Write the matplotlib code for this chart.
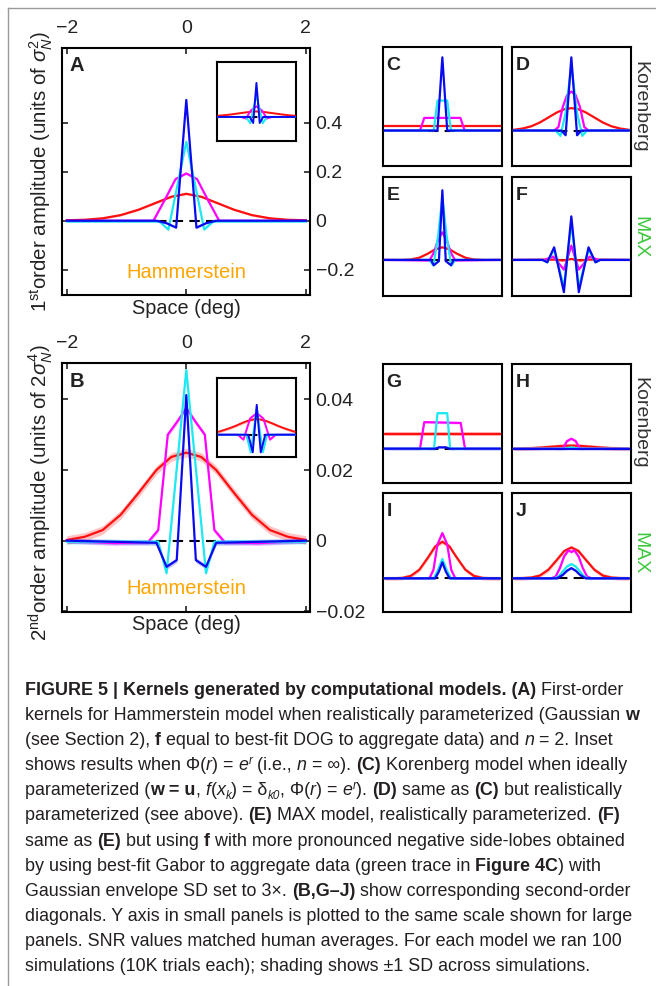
import numpy as np
import matplotlib.pyplot as plt
from matplotlib import font_manager
from matplotlib.lines import Line2D

plt.rcParams['font.family'] = ['Liberation Sans', 'DejaVu Sans']
plt.rcParams['mathtext.fontset'] = 'custom'
plt.rcParams['mathtext.rm'] = 'Liberation Sans'
plt.rcParams['mathtext.it'] = 'Liberation Sans:italic'
plt.rcParams['mathtext.bf'] = 'Liberation Sans:bold'

# ---------------- data ----------------
x_wide = [-2, -1.7, -1.4, -1.1, -0.8, -0.5, -0.25, 0, 0.25, 0.5, 0.8, 1.1, 1.4, 1.7, 2]

# A: first-order kernels, Hammerstein
kernel_A = {
    'red': (x_wide, [0.002, 0.004, 0.01, 0.023, 0.045, 0.074, 0.098, 0.11, 0.098, 0.074, 0.045, 0.023, 0.01, 0.004, 0.002]),
    'magenta': ([-2, -0.55, -0.35, -0.18, 0, 0.18, 0.35, 0.55, 2], [0, 0, 0.09, 0.17, 0.193, 0.17, 0.09, 0, 0]),
    'cyan': ([-2, -0.45, -0.3, 0, 0.3, 0.45, 2], [-0.003, -0.003, -0.036, 0.322, -0.036, -0.003, -0.003]),
    'blue': ([-2, -0.5, -0.33, -0.17, 0, 0.17, 0.33, 0.5, 2], [0, 0, -0.01, -0.028, 0.493, -0.028, -0.01, 0, 0]),
}
inset_A = {
    'red': (x_wide, [0.015, 0.022, 0.03, 0.04, 0.05, 0.06, 0.067, 0.07, 0.067, 0.06, 0.05, 0.04, 0.03, 0.022, 0.015]),
    'magenta': ([-2, -0.8, -0.55, -0.3, 0, 0.3, 0.55, 0.8, 2], [0, 0, -0.02, 0.08, 0.136, 0.08, -0.02, 0, 0]),
    'cyan': ([-2, -0.55, -0.33, 0, 0.33, 0.55, 2], [0, 0, -0.08, 0.277, -0.08, 0, 0]),
    'blue': ([-2, -0.35, -0.17, 0, 0.17, 0.35, 2], [0, 0, -0.077, 0.434, -0.077, 0, 0]),
}
# B: second-order diagonals, Hammerstein
kernel_B = {
    'red': (x_wide, [0.0002, 0.0011, 0.003, 0.0073, 0.0135, 0.02, 0.0237, 0.0249, 0.0237, 0.02, 0.0135, 0.0073, 0.003, 0.0011, 0.0002]),
    'magenta': ([-2, -1.2, -0.64, -0.47, -0.31, -0.16, 0, 0.16, 0.31, 0.47, 0.64, 1.2, 2],
                [0, -0.0007, -0.0004, 0.003, 0.03, 0.0335, 0.0375, 0.0335, 0.03, 0.003, -0.0004, -0.0007, 0]),
    'cyan': ([-2, -0.47, -0.33, 0, 0.33, 0.47, 2], [-0.0003, -0.0003, -0.0092, 0.0483, -0.0092, -0.0003, -0.0003]),
    'blue': ([-2, -0.5, -0.33, -0.16, 0, 0.16, 0.33, 0.5, 2], [0, -0.0006, -0.0074, -0.0055, 0.0412, -0.0055, -0.0074, -0.0006, 0]),
}
inset_B = {
    'red': (x_wide, [0.0027, 0.0043, 0.006, 0.008, 0.0102, 0.0122, 0.0134, 0.0139, 0.0134, 0.0122, 0.0102, 0.008, 0.006, 0.0043, 0.0027]),
    'magenta': ([-2, -1.0, -0.7, -0.35, 0, 0.35, 0.7, 1.0, 2], [0, 0, -0.0044, 0.0145, 0.0192, 0.0145, -0.0044, 0, 0]),
    'cyan': ([-2, -0.55, -0.32, 0, 0.32, 0.55, 2], [0, 0, -0.0157, 0.0236, -0.0157, 0, 0]),
    'blue': ([-2, -0.45, -0.21, 0, 0.21, 0.45, 2], [0, 0, -0.0157, 0.0266, -0.0157, 0, 0]),
}
# C-F: first-order, Korenberg (C,D) and MAX (E,F)
kernel_C = {
    'red': ([-2, 2], [0.037, 0.037]),
    'magenta': ([-2, -0.78, -0.63, 0.63, 0.78, 2], [0, 0, 0.107, 0.107, 0, 0]),
    'cyan': ([-2, -0.3, -0.17, 0.17, 0.3, 2], [0, 0, 0.254, 0.254, 0, 0]),
    'blue': ([-2, -0.17, 0, 0.17, 2], [0, 0, 0.62, 0, 0]),
}
kernel_D = {
    'red': (x_wide, [0.0065, 0.017, 0.036, 0.068, 0.111, 0.154, 0.18, 0.19, 0.18, 0.154, 0.111, 0.068, 0.036, 0.017, 0.0065]),
    'magenta': ([-2, -0.6, -0.45, -0.3, -0.15, 0, 0.15, 0.3, 0.45, 0.6, 2], [0, 0, 0.03, 0.2, 0.3, 0.33, 0.3, 0.2, 0.03, 0, 0]),
    'cyan': ([-2, -0.55, -0.38, -0.2, 0, 0.2, 0.38, 0.55, 2], [0, 0, -0.045, 0.15, 0.55, 0.15, -0.045, 0, 0]),
    'blue': ([-2, -0.35, -0.2, 0, 0.2, 0.35, 2], [0, 0, -0.04, 0.62, -0.04, 0, 0]),
}
kernel_E = {
    'red': (x_wide, [0, 0, 0.0005, 0.004, 0.019, 0.054, 0.09, 0.107, 0.09, 0.054, 0.019, 0.004, 0.0005, 0, 0]),
    'magenta': ([-2, -0.45, -0.3, -0.15, 0, 0.15, 0.3, 0.45, 2], [0, -0.005, 0.06, 0.17, 0.234, 0.17, 0.06, -0.005, 0]),
    'cyan': ([-2, -0.45, -0.31, -0.15, 0, 0.15, 0.31, 0.45, 2], [0, 0, -0.048, 0.2, 0.53, 0.2, -0.048, 0, 0]),
    'blue': ([-2, -0.4, -0.3, -0.12, 0, 0.12, 0.3, 0.4, 2], [0, 0, -0.045, -0.01, 0.59, -0.01, -0.045, 0, 0]),
}
kernel_F = {
    'red': ([-2, -0.6, -0.3, 0, 0.3, 0.6, 2], [0, 0.003, -0.005, 0.008, -0.005, 0.003, 0]),
    'magenta': ([-2, -0.95, -0.63, -0.26, 0, 0.26, 0.63, 0.95, 2], [0, 0, 0.028, -0.082, 0.121, -0.082, 0.028, 0, 0]),
    'cyan': ([-2, -1.0, -0.84, -0.6, -0.26, 0, 0.26, 0.6, 0.84, 1.0, 2],
             [0, 0, -0.02, 0.09, -0.23, 0.31, -0.23, 0.09, -0.02, 0, 0]),
    'blue': ([-2, -1.0, -0.84, -0.6, -0.26, 0, 0.26, 0.6, 0.84, 1.0, 2],
             [0, 0, -0.02, 0.107, -0.273, 0.369, -0.273, 0.107, -0.02, 0, 0]),
}
# G-J: second-order diagonals
kernel_G = {
    'red': ([-2, 2], [0.0086, 0.0086]),
    'magenta': ([-2, -0.78, -0.63, 0.64, 0.79, 2], [0, 0, 0.0157, 0.0152, 0, 0]),
    'cyan': ([-2, -0.29, -0.17, 0.17, 0.27, 2], [0, 0, 0.021, 0.021, 0, 0]),
    'blue': ([-2, -0.25, -0.12, 0.12, 0.25, 2], [0, 0, 0.0008, 0.0008, 0, 0]),
}
kernel_H = {
    'red': (x_wide, [0, 0.0001, 0.0003, 0.0006, 0.001, 0.0014, 0.0017, 0.0018, 0.0017, 0.0014, 0.001, 0.0006, 0.0003, 0.0001, 0]),
    'magenta': ([-2, -0.3, -0.15, 0, 0.15, 0.3, 2], [0, 0, 0.0045, 0.0059, 0.0045, 0, 0]),
    'cyan': ([-2, -0.25, 0, 0.25, 2], [0, 0, 0.0008, 0, 0]),
    'blue': ([-2, 2], [0, 0]),
}
kernel_I = {
    'red': (x_wide, [0, 0, 0.0002, 0.0014, 0.0051, 0.0123, 0.0188, 0.0216, 0.0188, 0.0123, 0.0051, 0.0014, 0.0002, 0, 0]),
    'magenta': ([-2, -0.45, -0.31, -0.17, 0, 0.17, 0.31, 0.45, 2], [0, 0, 0.005, 0.02, 0.0267, 0.02, 0.005, 0, 0]),
    'cyan': ([-2, -0.3, -0.15, 0, 0.15, 0.3, 2], [0, 0, 0.005, 0.0114, 0.005, 0, 0]),
    'blue': ([-2, -0.25, -0.12, 0, 0.12, 0.25, 2], [0, 0, 0.004, 0.0094, 0.004, 0, 0]),
}
kernel_J = {
    'red': (x_wide, [0, 0.0001, 0.0004, 0.0016, 0.0051, 0.011, 0.0161, 0.0182, 0.0161, 0.011, 0.0051, 0.0016, 0.0004, 0.0001, 0]),
    'magenta': ([-2, -0.7, -0.55, -0.4, -0.25, -0.1, 0, 0.1, 0.25, 0.4, 0.55, 0.7, 2],
                [0, 0, 0.001, 0.006, 0.013, 0.0165, 0.0155, 0.0165, 0.013, 0.006, 0.001, 0, 0]),
    'cyan': ([-2, -0.6, -0.45, -0.3, -0.15, 0, 0.15, 0.3, 0.45, 0.6, 2], [0, 0, 0.001, 0.004, 0.007, 0.0084, 0.007, 0.004, 0.001, 0, 0]),
    'blue': ([-2, -0.5, -0.3, -0.15, 0, 0.15, 0.3, 0.5, 2], [0, 0, 0.002, 0.0045, 0.006, 0.0045, 0.002, 0, 0]),
}

# +-1 SD half widths of the shading
sd_first = {'red': 0.004, 'magenta': 0.004, 'cyan': 0.004, 'blue': 0.004}
sd_second = {'red': 0.0012, 'magenta': 0.0007, 'cyan': 0.0007, 'blue': 0.0007}

ylim_first = (-0.303, 0.705)
ylim_second = (-0.0201, 0.0502)
yticks_first = [-0.2, 0, 0.2, 0.4]
ytick_labels_first = ['\u22120.2', '0', '0.2', '0.4']
yticks_second = [-0.02, 0, 0.02, 0.04]
ytick_labels_second = ['\u22120.02', '0', '0.02', '0.04']
xticks = [-2, 0, 2]
xtick_labels = ['\u22122', '0', '2']

caption_lines = [
    [("FIGURE 5 | Kernels generated by computational models. (A)", 'b'), (" First-order", 'n')],
    [("kernels for Hammerstein model when realistically parameterized (Gaussian ", 'n'), ("w", 'b')],
    [("(see Section 2), ", 'n'), ("f", 'b'), (" equal to best-fit DOG to aggregate data) and ", 'n'), ("n", 'i'), (" = 2. Inset", 'n')],
    [("shows results when \u03a6(", 'n'), ("r", 'i'), (") = ", 'n'), ("e", 'i'), ("r", 'isup'), (" (i.e., ", 'n'), ("n", 'i'),
     (" = \u221e). ", 'n'), ("(C)", 'b'), (" Korenberg model when ideally", 'n')],
    [("parameterized (", 'n'), ("w = u", 'b'), (", ", 'n'), ("f", 'i'), ("(", 'n'), ("x", 'i'), ("k", 'isub'), (") = \u03b4", 'n'),
     ("k0", 'isub'), (", \u03a6(", 'n'), ("r", 'i'), (") = ", 'n'), ("e", 'i'), ("r", 'isup'), ("). ", 'n'), ("(D)", 'b'),
     (" same as ", 'n'), ("(C)", 'b'), (" but realistically", 'n')],
    [("parameterized (see above). ", 'n'), ("(E)", 'b'), (" MAX model, realistically parameterized. ", 'n'), ("(F)", 'b')],
    [("same as ", 'n'), ("(E)", 'b'), (" but using ", 'n'), ("f", 'b'), (" with more pronounced negative side-lobes obtained", 'n')],
    [("by using best-fit Gabor to aggregate data (green trace in ", 'n'), ("Figure 4C", 'b'), (") with", 'n')],
    [("Gaussian envelope SD set to 3\u00d7. ", 'n'), ("(B,G\u2013J)", 'b'), (" show corresponding second-order", 'n')],
    [("diagonals. Y axis in small panels is plotted to the same scale shown for large", 'n')],
    [("panels. SNR values matched human averages. For each model we ran 100", 'n')],
    [("simulations (10K trials each); shading shows \u00b11 SD across simulations.", 'n')],
]

COLORS = {'red': '#ff1010', 'magenta': '#ff00ff', 'cyan': '#1ee8f2', 'blue': '#0a0aee'}

# ---------------- figure ----------------
W, H = 656, 986
fig = plt.figure(figsize=(W / 100, H / 100), dpi=100)
fig.patch.set_facecolor('white')


def px_axes(l, t, r, b):
    return fig.add_axes([l / W, 1 - b / H, (r - l) / W, (b - t) / H])


def ftext(x, y, s, **kw):
    return fig.text(x / W, 1 - y / H, s, **kw)


def draw_kernels(ax, panel, sd, ylim, lw=1.6):
    ax.plot([-0.5, 0.5], [0, 0], color='k', lw=1.5, dashes=(5, 3), zorder=1)
    for name in ['red', 'magenta', 'cyan', 'blue']:
        xs, ys = np.array(panel[name][0], float), np.array(panel[name][1], float)
        ax.fill_between(xs, ys - sd[name], ys + sd[name], color=COLORS[name], alpha=0.25, lw=0, zorder=2)
        ax.plot(xs, ys, color=COLORS[name], lw=lw, zorder=3)
    ax.set_xlim(-2.08, 2.07)
    ax.set_ylim(*ylim)
    for s in ax.spines.values():
        s.set_linewidth(1.5)


def plain(ax):
    ax.set_xticks([])
    ax.set_yticks([])


def big(ax, yt, ytl):
    ax.set_xticks(xticks)
    ax.set_xticklabels(xtick_labels)
    ax.set_yticks(yt)
    ax.set_yticklabels(ytl)
    ax.tick_params(direction='in', length=4, width=1.2, labelsize=14, top=True, bottom=True,
                   left=True, right=True, labeltop=True, labelbottom=False,
                   labelleft=False, labelright=True, colors='#222222')
    ax.tick_params(axis='x', pad=8)
    ax.tick_params(axis='y', pad=4)


# large panels
axA = px_axes(62, 48, 310, 295)
draw_kernels(axA, kernel_A, sd_first, ylim_first)
big(axA, yticks_first, ytick_labels_first)
axAi = px_axes(216.7, 61.7, 296, 140.7)
draw_kernels(axAi, inset_A, sd_first, ylim_first, lw=1.4)
plain(axAi)

axB = px_axes(62, 363.3, 310, 611.7)
draw_kernels(axB, kernel_B, sd_second, ylim_second)
big(axB, yticks_second, ytick_labels_second)
axBi = px_axes(217.3, 378.3, 296, 457.3)
draw_kernels(axBi, inset_B, sd_second, ylim_second, lw=1.4)
plain(axBi)

# small panels
small = [
    ('C', kernel_C, 382.7, 47.3, sd_first, ylim_first),
    ('D', kernel_D, 511.7, 47.3, sd_first, ylim_first),
    ('E', kernel_E, 382.7, 176.7, sd_first, ylim_first),
    ('F', kernel_F, 511.7, 176.7, sd_first, ylim_first),
    ('G', kernel_G, 382.7, 363.7, sd_second, ylim_second),
    ('H', kernel_H, 511.7, 363.7, sd_second, ylim_second),
    ('I', kernel_I, 382.7, 493.3, sd_second, ylim_second),
    ('J', kernel_J, 511.7, 493.3, sd_second, ylim_second),
]
for letter, panel, l, t, sd, yl in small:
    ax = px_axes(l, t, l + 119, t + 119)
    draw_kernels(ax, panel, sd, yl)
    plain(ax)
    ftext(l + 4, t + 10, letter, fontsize=14, weight='bold', color='#222222', va='top', ha='left')

ftext(70, 56, 'A', fontsize=14.5, weight='bold', color='#222222', va='top', ha='left')
ftext(70, 372, 'B', fontsize=14.5, weight='bold', color='#222222', va='top', ha='left')

# labels
ftext(186.5, 272, 'Hammerstein', fontsize=14.5, color='#ffa500', ha='center', va='center')
ftext(186.5, 588, 'Hammerstein', fontsize=14.5, color='#ffa500', ha='center', va='center')
ftext(186.5, 308, 'Space (deg)', fontsize=14.3, color='#222222', ha='center', va='center')
ftext(186.5, 624, 'Space (deg)', fontsize=14.3, color='#222222', ha='center', va='center')
ftext(41, 171.5, r'1$^{\mathrm{st}}$order amplitude (units of $\sigma_N^2$)', fontsize=14.8,
      color='#222222', rotation=90, ha='center', va='center')
ftext(41, 492, r'2$^{\mathrm{nd}}$order amplitude (units of $2\sigma_N^4$)', fontsize=14.8,
      color='#222222', rotation=90, ha='center', va='center')
for yc in (107, 423):
    ftext(640, yc, 'Korenberg', fontsize=14, color='#333333', rotation=-90, ha='center', va='center')
for yc in (237, 553):
    ftext(640, yc, 'MAX', fontsize=14, color='#3cc83c', rotation=-90, ha='center', va='center')

# outer frame (top and left only)
fig.add_artist(Line2D([8 / W, 1], [1 - 7.5 / H, 1 - 7.5 / H], transform=fig.transFigure, color='#9a9a9a', lw=1))
fig.add_artist(Line2D([8 / W, 8 / W], [0, 1 - 7.5 / H], transform=fig.transFigure, color='#9a9a9a', lw=1))

# ---------------- caption ----------------
try:
    font_manager.findfont(font_manager.FontProperties(family='Liberation Sans Narrow'), fallback_to_default=False)
    cap_family, cap_size = 'Liberation Sans Narrow', 14
except ValueError:
    cap_family, cap_size = 'Liberation Sans', 12.9

renderer = fig.canvas.get_renderer()
styles = {
    'n': dict(),
    'b': dict(weight='bold'),
    'i': dict(style='italic'),
    'isup': dict(style='italic', size_scale=0.65, dy=-6),
    'isub': dict(style='italic', size_scale=0.65, dy=4),
}


def seg_width(s, kw):
    t1 = fig.text(0, 0, s + '|', **kw)
    t2 = fig.text(0, 0, '|', **kw)
    w = t1.get_window_extent(renderer).width - t2.get_window_extent(renderer).width
    t1.remove()
    t2.remove()
    return w


y0 = 695
for i, line in enumerate(caption_lines):
    x = 25
    y = y0 + i * 25.1
    for s, st in line:
        opts = dict(styles[st])
        scale = opts.pop('size_scale', 1.0)
        dy = opts.pop('dy', 0)
        kw = dict(family=[cap_family, 'DejaVu Sans'], fontsize=cap_size * scale, color='#231f20', va='baseline', **opts)
        ftext(x, y + dy, s, **kw)
        x += seg_width(s, kw)

fig.savefig('out.png', dpi=100, facecolor='white')
